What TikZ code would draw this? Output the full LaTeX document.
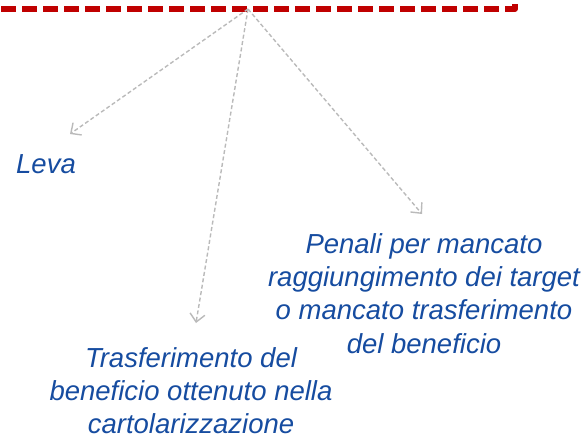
\documentclass[tikz,border=0pt]{standalone}
\usepackage{fontspec}
\setmainfont{Liberation Sans}
\usetikzlibrary{arrows.meta}
\definecolor{txtblue}{RGB}{22,76,160}
\definecolor{boxred}{RGB}{192,0,0}
\definecolor{arrgray}{RGB}{186,186,186}
\tikzset{
  lbl/.style={inner sep=0pt, text=txtblue, font=\fontsize{27.5pt}{33.3pt}\selectfont\itshape, align=center},
  redbox/.style={draw=boxred, line width=5.5pt, dash pattern=on 15pt off 6pt, line join=round},
  link/.style={draw=arrgray, line width=1.4pt, dash pattern=on 4pt off 2.5pt, -{Straight Barb[length=8pt,width=15pt,line width=1.4pt]}}
}
\begin{document}
\begin{tikzpicture}[x=1pt,y=-1pt]
\useasboundingbox (0,0) rectangle (587,437);
\clip (0,0) rectangle (587,437);
% red dashed frame (only its lower right part is visible)
\coordinate (fa) at (-20,9);
\coordinate (fb) at (515,9);
\coordinate (fc) at (515,-20);
\draw[redbox] (fa) -- (fb) -- (fc);
% source point of the arrows
\coordinate (src) at (248,9);
% arrow ends
\coordinate (t1) at (70,134);
\coordinate (t2) at (196,323);
\coordinate (t3) at (422,214);
% labels
\node[lbl, anchor=base west] (leva) at (16,173) {Leva};
\node[lbl, anchor=north] (penali) at (424,233) {Penali per mancato\\raggiungimento dei target\\o mancato trasferimento\\del beneficio};
\node[lbl, anchor=north] (trasf) at (191,347) {Trasferimento del\\beneficio ottenuto nella\\cartolarizzazione};
% connectors
\draw[link] (src) -- (t1);
\draw[link] (src) -- (t2);
\draw[link] (src) -- (t3);
\end{tikzpicture}
\end{document}
